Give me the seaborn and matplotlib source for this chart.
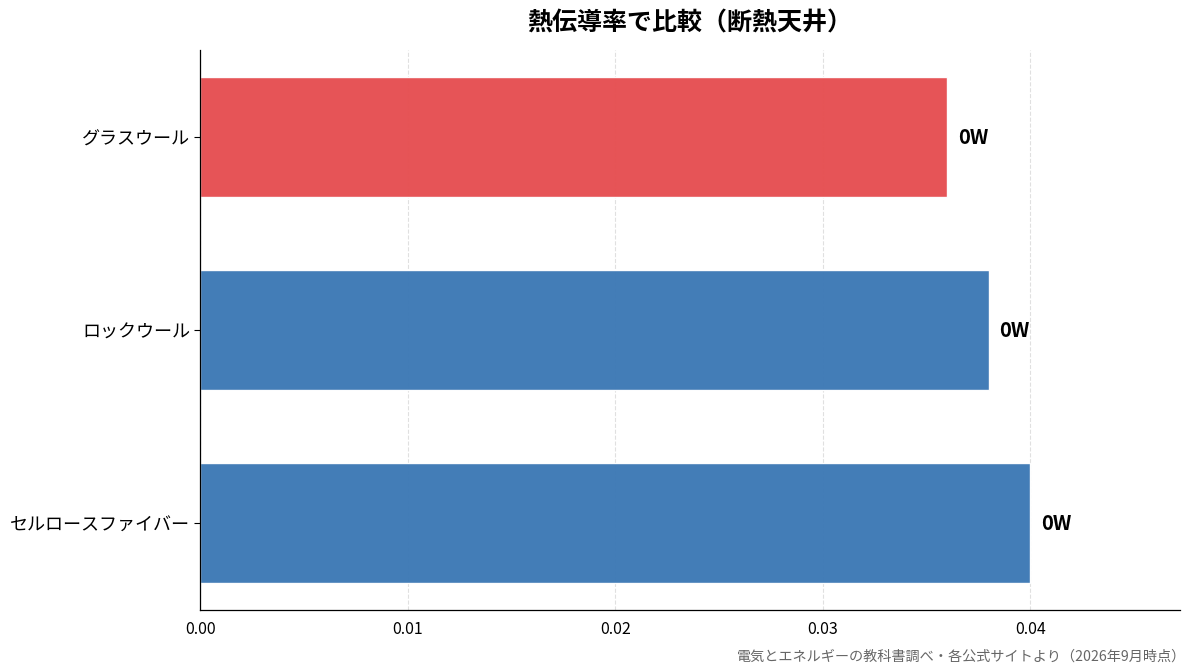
import pandas as pd
import matplotlib.pyplot as plt
import seaborn as sns

# Data
materials = ['グラスウール', 'ロックウール', 'セルロースファイバー']
conductivity = [0.036, 0.038, 0.040]
bar_colors = ['#e65053', '#3f7ab6', '#3f7ab6']

df = pd.DataFrame({'material': materials, 'k': conductivity})

sns.set_style('white')
plt.rcParams['font.family'] = ['Noto Sans CJK JP', 'DejaVu Sans']
plt.rcParams['text.color'] = 'black'
plt.rcParams['xtick.color'] = 'black'
plt.rcParams['ytick.color'] = 'black'

fig, ax = plt.subplots(figsize=(11.93, 6.72), dpi=100)
fig.subplots_adjust(left=0.168, right=0.989, top=0.925, bottom=0.092)

sns.barplot(data=df, y='material', x='k', hue='material', palette=bar_colors,
            saturation=1, orient='h', width=0.62, legend=False, ax=ax, zorder=2)
for p in ax.patches:
    p.set_alpha(0.98)

# labels next to bars (format as in the original)
for i, v in enumerate(conductivity):
    ax.text(v + 0.0005, i, f'{v:.0f}W', va='center', ha='left',
            fontsize=14.5, fontweight='bold', color='black')

ax.set_xlim(0, 0.0472)
ax.set_ylim(2.45, -0.45)
ax.set_xticks([0.0, 0.01, 0.02, 0.03, 0.04])
ax.set_xticklabels(['0.00', '0.01', '0.02', '0.03', '0.04'])
ax.tick_params(axis='x', labelsize=11.5, length=4, width=0.8, colors='black')
ax.tick_params(axis='y', labelsize=13, length=4, width=0.8, left=True, colors='black')
ax.set_xlabel('')
ax.set_ylabel('')
ax.grid(axis='x', linestyle='--', color='#cccccc', alpha=0.6, linewidth=0.8, zorder=0)
ax.set_axisbelow(True)
sns.despine(ax=ax)
for s in ['left', 'bottom']:
    ax.spines[s].set_color('black')
    ax.spines[s].set_linewidth(0.9)

ax.set_title('熱伝導率で比較（断熱天井）', fontsize=18, fontweight='bold', pad=14, color='black')
fig.text(0.994, 0.012, '電気とエネルギーの教科書調べ・各公式サイトより（2026年9月時点）',
         ha='right', va='bottom', fontsize=10.2, color='#666666')

plt.savefig('out.png', dpi=100)
plt.close()
